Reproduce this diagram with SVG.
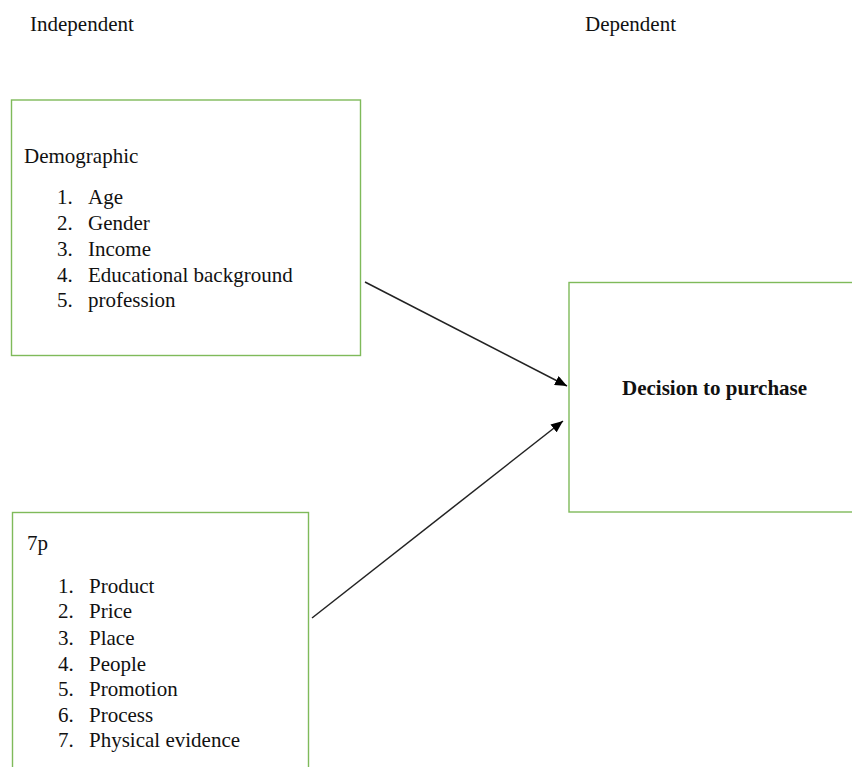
<svg xmlns="http://www.w3.org/2000/svg" width="852" height="767" viewBox="0 0 852 767">
<style>
  .box { fill: #ffffff; stroke: #7fba5a; stroke-width: 1.4; }
  .t { font-family: "Liberation Serif", "Times New Roman", serif; font-size: 21px; fill: #111111; }
  .b { font-weight: bold; }
  .conn { stroke: #222222; stroke-width: 1.5; fill: none; marker-end: url(#ah); }
</style>
<defs>
  <marker id="ah" viewBox="0 0 12 10" refX="12" refY="5" markerWidth="12" markerHeight="10" markerUnits="userSpaceOnUse" orient="auto">
    <path d="M0,0 L12,5 L0,10 Z" fill="#000000"/>
  </marker>
</defs>
<rect width="852" height="767" fill="#ffffff"/>
<g id="header-independent"><text class="t" x="30" y="31">Independent</text></g>
<g id="header-dependent"><text class="t" x="585" y="31">Dependent</text></g>
<g id="demographic">
  <rect class="box" x="11.5" y="100" width="349" height="255.5"/>
  <text class="t" x="24" y="163">Demographic</text>
  <text class="t" x="57" y="203.5">1.</text><text class="t" x="88" y="203.5">Age</text>
  <text class="t" x="57" y="229.5">2.</text><text class="t" x="88" y="229.5">Gender</text>
  <text class="t" x="57" y="256">3.</text><text class="t" x="88" y="256">Income</text>
  <text class="t" x="57" y="281.5">4.</text><text class="t" x="88" y="281.5">Educational background</text>
  <text class="t" x="57" y="307">5.</text><text class="t" x="88" y="307">profession</text>
</g>
<g id="sevenp">
  <rect class="box" x="12.5" y="512.5" width="296" height="270"/>
  <text class="t" x="27" y="550">7p</text>
  <text class="t" x="58" y="592.5">1.</text><text class="t" x="89" y="592.5">Product</text>
  <text class="t" x="58" y="618">2.</text><text class="t" x="89" y="618">Price</text>
  <text class="t" x="58" y="645">3.</text><text class="t" x="89" y="645">Place</text>
  <text class="t" x="58" y="670.5">4.</text><text class="t" x="89" y="670.5">People</text>
  <text class="t" x="58" y="696">5.</text><text class="t" x="89" y="696">Promotion</text>
  <text class="t" x="58" y="721.5">6.</text><text class="t" x="89" y="721.5">Process</text>
  <text class="t" x="58" y="747">7.</text><text class="t" x="89" y="747">Physical evidence</text>
</g>
<g id="decision">
  <rect class="box" x="569" y="282.5" width="300" height="229.5"/>
  <text class="t b" x="622" y="395">Decision to purchase</text>
</g>
<g id="connectors">
  <line class="conn" x1="365" y1="282" x2="567" y2="386"/>
  <line class="conn" x1="312" y1="618" x2="563" y2="421"/>
</g>
</svg>
